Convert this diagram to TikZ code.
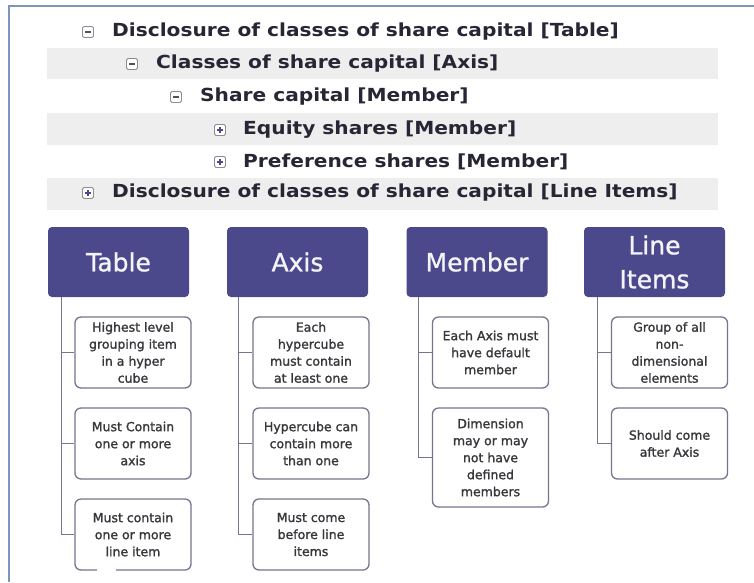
\documentclass[tikz,border=0pt]{standalone}
\usepackage{fontspec}
\setmainfont{DejaVu Sans}
\newfontfamily\treefont{DejaVu Sans}[FakeStretch=1.12]
\newfontfamily\headfont{DejaVu Sans}[FakeBold=1]
\newfontfamily\boxfont{DejaVu Sans}[FakeBold=1.4]
\definecolor{framec}{RGB}{122,150,186}
\definecolor{bandc}{RGB}{238,238,238}
\definecolor{headc}{RGB}{75,73,140}
\definecolor{linec}{RGB}{118,116,142}
\definecolor{treetext}{RGB}{40,38,52}
\definecolor{boxtext}{RGB}{55,55,60}
\definecolor{iconc}{RGB}{140,140,150}
\tikzset{
  frameline/.style={draw=framec, line width=1.2pt},
  band/.style={fill=bandc},
  treerow/.style={anchor=west, inner sep=0pt, text=treetext,
    font=\treefont\bfseries\fontsize{18}{22}\selectfont},
  iconbox/.style={draw=iconc, fill=white, line width=0.9pt, minimum size=11pt,
    inner sep=0pt, rounded corners=1.5pt},
  iconmark/.style={draw=treetext!80, line width=1.1pt},
  headbox/.style={fill=headc, rounded corners=4pt, minimum width=141pt,
    minimum height=70pt, inner sep=0pt, align=center, text=white!94!headc,
    font=\headfont\fontsize{25}{33}\selectfont},
  childbox/.style={draw=linec, fill=white, line width=1.3pt, rounded corners=6pt,
    minimum width=116pt, minimum height=71pt, inner sep=0pt, align=center,
    text=boxtext, font=\boxfont\fontsize{12.5}{17}\selectfont},
  conn/.style={draw=linec, line width=1.3pt}
}
\begin{document}
\begin{tikzpicture}[x=1pt,y=-1pt]
\useasboundingbox (0,0) rectangle (754,582);
\fill[white] (0,0) rectangle (754,582);
\draw[frameline] (9,582) -- (9,6) -- (754,6);
% bands
\fill[band] (47,48) rectangle (718,79);
\fill[band] (47,113) rectangle (718,145);
\fill[band] (47,178) rectangle (718,210);
% tree rows
\node[iconbox] (i1) at (88,32) {};
\node[treerow] (r1) at (112,32) {Disclosure of classes of share capital [Table]};
\node[iconbox] (i2) at (132,64) {};
\node[treerow] (r2) at (156,64) {Classes of share capital [Axis]};
\node[iconbox] (i3) at (176,97) {};
\node[treerow] (r3) at (200,97) {Share capital [Member]};
\node[iconbox] (i4) at (220,130) {};
\node[treerow] (r4) at (243,130) {Equity shares [Member]};
\node[iconbox] (i5) at (220,162) {};
\node[treerow] (r5) at (243,162) {Preference shares [Member]};
\node[iconbox] (i6) at (88,193) {};
\node[treerow] (r6) at (112,193) {Disclosure of classes of share capital [Line Items]};
\foreach \n in {i1,i2,i3}{
  \draw[iconmark] ([xshift=-3pt]\n.center) -- ([xshift=3pt]\n.center);
}
\foreach \n in {i4,i5,i6}{
  \draw[iconmark, draw=headc] ([xshift=-3pt]\n.center) -- ([xshift=3pt]\n.center);
  \draw[iconmark, draw=headc] ([yshift=-3pt]\n.center) -- ([yshift=3pt]\n.center);
}
% headers
\node[headbox] (T) at (118.5,262) {Table};
\node[headbox] (A) at (297.5,262) {Axis};
\node[headbox] (M) at (477,262) {Member};
\node[headbox, font=\headfont\fontsize{25}{34}\selectfont] (L) at (654.5,262) {Line\\Items};
% children
\node[childbox] (T1) at (133,352.5) {Highest level\\grouping item\\in a hyper\\cube};
\node[childbox] (T2) at (133,443.5) {Must Contain\\one or more\\axis};
\node[childbox] (T3) at (133,534.5) {Must contain\\one or more\\line item};
\node[childbox] (A1) at (311,352.5) {Each\\hypercube\\must contain\\at least one};
\node[childbox] (A2) at (311,443.5) {Hypercube can\\contain more\\than one};
\node[childbox] (A3) at (311,534.5) {Must come\\before line\\items};
\node[childbox] (M1) at (490.5,352.5) {Each Axis must\\have default\\member};
\node[childbox, minimum height=99pt] (M2) at (490.5,457.5) {Dimension\\may or may\\not have\\defined\\members};
\node[childbox] (L1) at (669.5,352.5) {Group of all\\non-\\dimensional\\elements};
\node[childbox] (L2) at (669.5,443.5) {Should come\\after Axis};
% connectors
\draw[conn] ([xshift=14pt]T.south west) |- (T3.west);
\draw[conn] ([xshift=14pt]T.south west |- T1.west) -- (T1.west);
\draw[conn] ([xshift=14pt]T.south west |- T2.west) -- (T2.west);
\draw[conn] ([xshift=12pt]A.south west) |- (A3.west);
\draw[conn] ([xshift=12pt]A.south west |- A1.west) -- (A1.west);
\draw[conn] ([xshift=12pt]A.south west |- A2.west) -- (A2.west);
\draw[conn] ([xshift=12pt]M.south west) |- (M2.west);
\draw[conn] ([xshift=12pt]M.south west |- M1.west) -- (M1.west);
\draw[conn] ([xshift=14pt]L.south west) |- (L2.west);
\draw[conn] ([xshift=14pt]L.south west |- L1.west) -- (L1.west);
% small white patch over the last box's lower edge
\fill[white] (97,567) rectangle (116,582);
\end{tikzpicture}
\end{document}
